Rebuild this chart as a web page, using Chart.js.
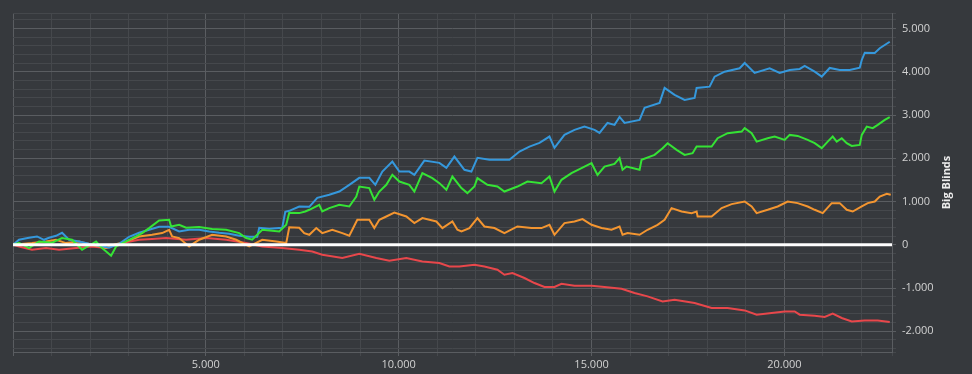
<!DOCTYPE html>
<html><head><meta charset="utf-8">
<script src="https://cdn.jsdelivr.net/npm/chart.js@4.4.0/dist/chart.umd.min.js"></script>
<style>html,body{margin:0;padding:0;background:#36393d;overflow:hidden}canvas{display:block}</style>
</head><body>
<canvas id="c" width="972" height="374"></canvas>
<script>
// ---- data (hands played -> big blinds won) ----
const axisTitle = 'Big Blinds';
const xMin = 0, xMax = 22790;
const yMin = -2480, yMax = 5360;
const xTickStep = 1000, xLabelStep = 5000;
const yTickStep = 200, yLabelStep = 1000;

const greenHands = [0,156,415,675,1012,1272,1531,1791,2154,2310,2543,2673,2932,3192,3348,3529,3789,4048,4100,4308,4489,4827,5164,5527,5865,6046,6202,6462,6903,7084,7163,7422,7577,7682,7941,8019,8200,8460,8719,8901,8979,9238,9368,9498,9679,9835,10017,10276,10406,10614,10873,11055,11236,11392,11626,11781,11963,12041,12300,12560,12741,13079,13338,13702,13909,14039,14221,14480,14817,15000,15155,15336,15596,15726,15804,15908,16245,16297,16634,16842,16972,17205,17413,17620,17724,18113,18269,18528,18892,18970,19151,19281,19566,19748,20007,20137,20345,20604,20786,20968,21123,21253,21357,21487,21616,21746,21954,22006,22136,22291,22421,22603,22732];
const greenBB = [0,46,-76,76,46,155,116,-116,76,-76,-254,-39,76,192,270,386,561,578,423,462,393,409,363,347,270,155,116,347,307,462,739,732,769,809,924,769,848,924,885,1116,1347,1310,1040,1231,1386,1617,1462,1386,1231,1656,1541,1425,1271,1578,1310,1194,1347,1541,1386,1347,1231,1347,1462,1425,1578,1231,1502,1656,1809,1887,1617,1809,1871,2003,1733,1809,1733,1964,2079,2234,2349,2195,2079,2118,2271,2271,2465,2580,2617,2696,2580,2386,2465,2502,2426,2541,2518,2426,2349,2234,2386,2502,2386,2465,2349,2287,2310,2541,2733,2696,2772,2888,2950];

const blueHands = [0,156,415,623,805,934,1116,1272,1453,1713,1972,2232,2491,2751,3010,3270,3529,3789,4048,4308,4567,4827,5086,5346,5605,5865,6124,6332,6384,6643,6981,7059,7163,7422,7682,7889,8200,8460,8719,8979,9238,9394,9576,9835,10017,10276,10406,10665,11055,11236,11444,11704,11885,12041,12352,12612,12871,13131,13390,13650,13909,14039,14298,14558,14817,15077,15207,15414,15596,15726,15856,16245,16375,16764,16894,17153,17413,17672,17724,18061,18191,18451,18840,18970,19229,19618,19878,20137,20397,20526,20786,20968,21175,21435,21694,21954,22006,22084,22343,22473,22732];
const blueBB = [0,115,162,192,115,162,208,277,115,76,23,-23,-69,23,185,277,347,416,416,307,347,347,307,277,254,208,185,185,393,370,393,762,785,885,878,1086,1155,1231,1386,1548,1548,1386,1693,1924,1693,1693,1617,1947,1894,1779,2040,1733,1693,2010,1964,1964,1964,2155,2271,2356,2502,2241,2541,2657,2733,2657,2587,2818,2772,2957,2818,2888,3165,3280,3627,3465,3350,3396,3627,3657,3888,4003,4082,4204,3973,4082,3973,4043,4066,4135,4003,3888,4089,4043,4043,4096,4274,4442,4435,4544,4696];

const orangeHands = [0,493,856,1116,1375,1713,2050,2413,2621,2932,3270,3607,3867,4048,4126,4308,4567,4827,5164,5527,5787,6124,6462,6825,7084,7163,7422,7551,7682,7863,8019,8278,8538,8719,8797,8927,9238,9368,9498,9679,9887,10198,10406,10614,10977,11133,11392,11522,11626,11833,12041,12222,12482,12741,13079,13442,13702,13909,14039,14298,14558,14766,15000,15259,15518,15726,15804,15934,16245,16452,16712,16894,17075,17335,17594,17724,17750,18113,18373,18632,18970,19151,19281,19566,19826,20085,20345,20604,20786,20994,21227,21435,21616,21772,22006,22161,22343,22473,22654,22758];
const orangeBB = [0,39,76,116,39,76,0,-76,0,76,192,231,270,347,192,155,-39,116,231,192,116,-39,116,76,39,404,393,270,231,386,270,347,270,208,347,578,578,386,578,654,746,654,501,617,538,386,538,347,307,386,617,423,386,270,423,386,386,462,231,501,538,594,462,386,347,423,231,270,231,347,462,578,848,769,732,769,654,654,848,940,1000,885,732,809,885,1000,963,885,809,732,963,963,809,769,885,963,1000,1116,1178,1155];

const redHands = [0,156,493,856,1194,1635,2050,2413,2829,3270,3607,3970,4489,5008,5527,6046,6462,6981,7422,7759,8019,8538,8979,9420,9757,10198,10614,11055,11314,11574,11963,12222,12560,12741,12949,13260,13520,13779,14039,14221,14558,15000,15336,15778,16115,16452,16842,17153,17672,18113,18528,18970,19281,19670,20007,20267,20397,20786,21045,21253,21487,21746,22084,22421,22732];
const redBB = [0,-39,-116,-76,-116,-76,-39,-76,39,116,132,155,116,155,116,39,-39,-76,-116,-155,-231,-307,-208,-307,-370,-307,-386,-423,-501,-501,-462,-501,-578,-693,-654,-769,-885,-977,-977,-901,-947,-947,-977,-1016,-1116,-1194,-1310,-1271,-1347,-1462,-1462,-1518,-1617,-1578,-1541,-1541,-1617,-1640,-1670,-1594,-1693,-1772,-1749,-1749,-1786];

// ---- helpers ----
function fmt(v){
  const neg = v < 0; let s = String(Math.round(Math.abs(v)));
  s = s.replace(/\B(?=(\d{3})+(?!\d))/g, '.');
  return (neg ? '-' : '') + s;
}
function pts(h, v){ return h.map((x,i)=>({x:x, y:v[i]})); }
function tickList(min, max, step){
  const out = [{value:min}];
  for (let v = Math.ceil(min/step)*step; v < max; v += step) if (v > min) out.push({value:v});
  out.push({value:max});
  return out;
}
const isMult = (v, m) => Math.abs(v % m) < 1e-6;

const GRID_MINOR = '#45484c';
const GRID_MAJOR = '#5a5d61';
const TEXT = '#d2d2d2';
const FONT = '"Open Sans", "Noto Sans", sans-serif';

const zeroLine = {
  id:'zeroLine',
  afterDatasetsDraw(chart){
    const {ctx, chartArea:a, scales:{y}} = chart;
    const py = y.getPixelForValue(0);
    ctx.save();
    ctx.strokeStyle = '#ffffff'; ctx.lineWidth = 3;
    ctx.beginPath(); ctx.moveTo(a.left, py); ctx.lineTo(a.right, py); ctx.stroke();
    ctx.restore();
  }
};
const sideTitle = {
  id:'sideTitle',
  afterDraw(chart){
    const {ctx, chartArea:a} = chart;
    ctx.save();
    ctx.translate(947, (a.top + a.bottom)/2);
    ctx.rotate(-Math.PI/2);
    ctx.fillStyle = '#ececec';
    ctx.font = 'bold 11px ' + FONT;
    ctx.textAlign = 'center'; ctx.textBaseline = 'middle';
    ctx.fillText(axisTitle, 0, 0);
    ctx.restore();
  }
};

const line = (label, h, v, color) => ({
  label, data: pts(h, v), borderColor: color, backgroundColor: color,
  borderWidth: 2, pointRadius: 0, tension: 0, fill: false
});

new Chart(document.getElementById('c'), {
  type: 'line',
  data: { datasets: [
    line('Green', greenHands, greenBB, '#35e335'),
    line('Blue', blueHands, blueBB, '#3598dc'),
    line('Orange', orangeHands, orangeBB, '#f39530'),
    line('Red', redHands, redBB, '#e8474b')
  ]},
  options: {
    responsive: false, animation: false, devicePixelRatio: 1,
    layout: { padding: { left: 13, top: 13, right: 0, bottom: 0 } },
    plugins: { legend: { display: false }, tooltip: { enabled: false } },
    scales: {
      x: {
        type: 'linear', position: 'bottom', min: xMin, max: xMax,
        afterFit(s){ s.height = 22; },
        afterBuildTicks(s){ s.ticks = tickList(xMin, xMax, xTickStep); },
        grid: {
          color: c => (c.tick && isMult(c.tick.value, xLabelStep)) ? GRID_MAJOR : GRID_MINOR,
          lineWidth: 1, tickLength: 4, drawTicks: true
        },
        border: { display: true, color: GRID_MAJOR },
        ticks: {
          autoSkip: false, maxRotation: 0, padding: 2,
          color: TEXT, font: { family: FONT, size: 11 },
          callback: v => (v !== 0 && isMult(v, xLabelStep)) ? fmt(v) : ''
        }
      },
      y: {
        type: 'linear', position: 'right', min: yMin, max: yMax,
        afterFit(s){ s.width = 80; },
        afterBuildTicks(s){ s.ticks = tickList(yMin, yMax, yTickStep); },
        grid: {
          color: c => (c.tick && isMult(c.tick.value, yLabelStep)) ? GRID_MAJOR : GRID_MINOR,
          lineWidth: 1, tickLength: 4, drawTicks: true
        },
        border: { display: true, color: GRID_MAJOR },
        ticks: {
          autoSkip: false, padding: 6,
          color: TEXT, font: { family: FONT, size: 11 },
          callback: v => isMult(v, yLabelStep) ? fmt(v) : ''
        }
      }
    }
  },
  plugins: [zeroLine, sideTitle]
});
</script>
</body></html>
